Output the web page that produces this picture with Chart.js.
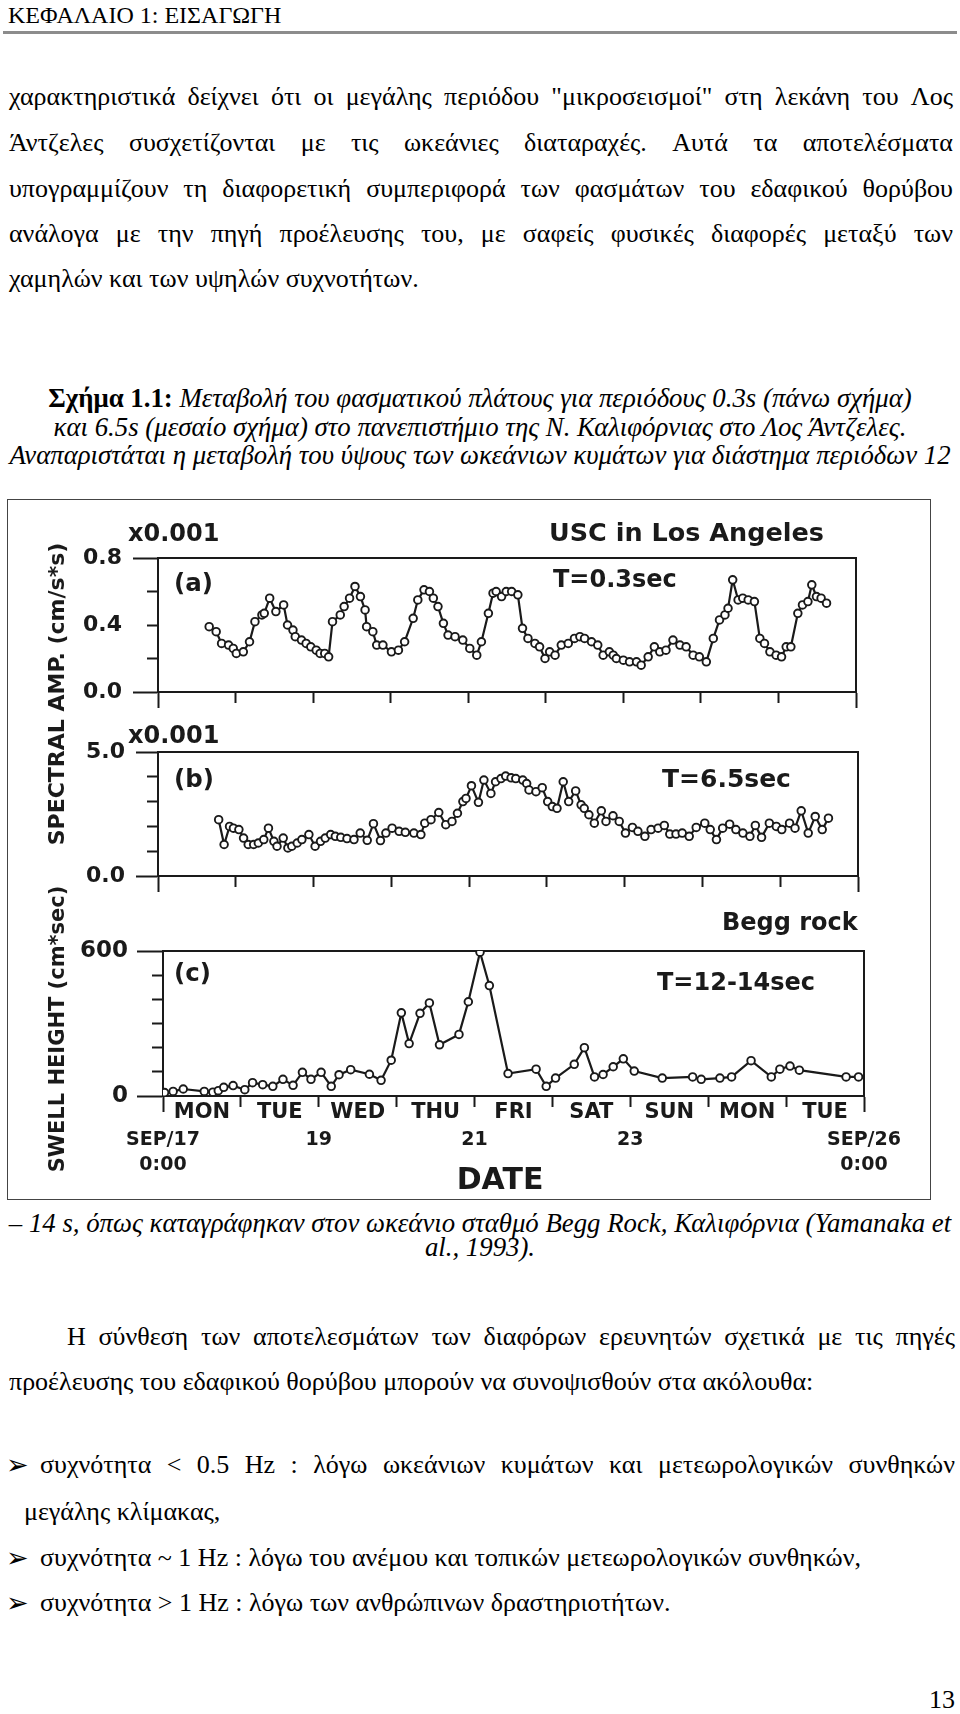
<!DOCTYPE html>
<html><head><meta charset="utf-8">
<script src="https://cdn.jsdelivr.net/npm/chart.js@4.4.1/dist/chart.umd.min.js"></script>
<style>
html,body{margin:0;padding:0;background:#fff;}
body{width:960px;height:1714px;position:relative;overflow:hidden;font-family:'Liberation Serif','Times New Roman',serif;color:#000;}
.ln{position:absolute;white-space:nowrap;font-size:26px;line-height:30px;height:30px;}
.j{display:flex;justify-content:space-between;}
.c{left:0;width:960px;text-align:center;}
.cap{font-size:26.8px;font-style:italic;}
.f{position:absolute;white-space:nowrap;font-family:'DejaVu Sans',sans-serif;font-weight:bold;color:#1a1a1a;line-height:1;transform:translateY(-50%);}
.rot{position:absolute;white-space:nowrap;font-family:'DejaVu Sans',sans-serif;font-weight:bold;color:#1a1a1a;line-height:1;transform:translate(-50%,-50%) rotate(-90deg);}
.bul{position:absolute;font-family:'DejaVu Sans',sans-serif;font-size:27px;line-height:30px;height:30px;}
canvas{position:absolute;left:0;}
#box{position:absolute;left:7px;top:499px;width:922px;height:699px;border:1.5px solid #444;}
</style></head><body>

<div class="ln" style="left:8px;top:0px;font-size:24px;">ΚΕΦΑΛΑΙΟ 1: ΕΙΣΑΓΩΓΗ</div>
<div style="position:absolute;left:3px;top:31px;width:954px;height:3px;background:#8c8c8c;"></div>

<div class="ln j" style="left:9px;width:944px;top:82px;">χαρακτηριστικά δείχνει ότι οι μεγάλης περιόδου "μικροσεισμοί" στη λεκάνη του Λος</div>
<div class="ln j" style="left:9px;width:944px;top:128px;">Άντζελες συσχετίζονται με τις ωκεάνιες διαταραχές. Αυτά τα αποτελέσματα</div>
<div class="ln j" style="left:9px;width:944px;top:174px;">υπογραμμίζουν τη διαφορετική συμπεριφορά των φασμάτων του εδαφικού θορύβου</div>
<div class="ln j" style="left:9px;width:944px;top:219px;">ανάλογα με την πηγή προέλευσης του, με σαφείς φυσικές διαφορές μεταξύ των</div>
<div class="ln" style="left:9px;top:264px;">χαμηλών και των υψηλών συχνοτήτων.</div>

<div class="ln c cap" style="top:383px;"><b style="font-style:normal">Σχήμα 1.1:</b> Μεταβολή του φασματικού πλάτους για περιόδους 0.3s (πάνω σχήμα)</div>
<div class="ln c cap" style="top:412px;">και 6.5s (μεσαίο σχήμα) στο πανεπιστήμιο της Ν. Καλιφόρνιας στο Λος Άντζελες.</div>
<div class="ln c cap" style="top:440px;">Αναπαριστάται η μεταβολή του ύψους των ωκεάνιων κυμάτων για διάστημα περιόδων 12</div>

<div id="box"></div>
<canvas id="ca" width="960" height="182" style="top:534px"></canvas>
<canvas id="cb" width="960" height="172" style="top:728px"></canvas>
<canvas id="cc" width="960" height="260" style="top:927px"></canvas>

<div class="f" style="left:128px;top:533px;font-size:24px;">x0.001</div>
<div class="f" style="left:549px;top:533px;font-size:25.5px;">USC in Los Angeles</div>
<div class="f" style="left:174px;top:583px;font-size:24.5px;">(a)</div>
<div class="f" style="left:553px;top:579px;font-size:24px;">T=0.3sec</div>
<div class="f" style="left:128px;top:735px;font-size:24px;">x0.001</div>
<div class="f" style="left:174px;top:779px;font-size:24.5px;">(b)</div>
<div class="f" style="left:662px;top:778px;font-size:25px;">T=6.5sec</div>
<div class="f" style="left:722px;top:922px;font-size:24px;">Begg rock</div>
<div class="f" style="left:174px;top:973px;font-size:24.5px;">(c)</div>
<div class="f" style="left:657px;top:982px;font-size:24px;">T=12-14sec</div>
<div class="f" style="left:500px;top:1179px;font-size:30px;transform:translate(-50%,-50%);">DATE</div>
<div class="rot" style="left:57px;top:694px;font-size:22px;">SPECTRAL AMP. (cm/s*s)</div>
<div class="rot" style="left:57px;top:1029px;font-size:21px;">SWELL HEIGHT (cm*sec)</div>

<div class="ln c cap" style="top:1208px;">– 14 s, όπως καταγράφηκαν στον ωκεάνιο σταθμό Begg Rock, Καλιφόρνια (Yamanaka et</div>
<div class="ln c cap" style="top:1232px;">al., 1993).</div>

<div class="ln j" style="left:67px;width:888px;top:1322px;">Η σύνθεση των αποτελεσμάτων των διαφόρων ερευνητών σχετικά με τις πηγές</div>
<div class="ln" style="left:9px;top:1367px;">προέλευσης του εδαφικού θορύβου μπορούν να συνοψισθούν στα ακόλουθα:</div>

<div class="bul" style="left:6px;top:1450px;">➢</div>
<div class="ln j" style="left:40px;width:915px;top:1450px;">συχνότητα &lt; 0.5 Hz : λόγω ωκεάνιων κυμάτων και μετεωρολογικών συνθηκών</div>
<div class="ln" style="left:24px;top:1497px;">μεγάλης κλίμακας,</div>
<div class="bul" style="left:6px;top:1543px;">➢</div>
<div class="ln" style="left:40px;top:1543px;">συχνότητα ~ 1 Hz : λόγω του ανέμου και τοπικών μετεωρολογικών συνθηκών,</div>
<div class="bul" style="left:6px;top:1588px;">➢</div>
<div class="ln" style="left:40px;top:1588px;">συχνότητα &gt; 1 Hz : λόγω των ανθρώπινων δραστηριοτήτων.</div>

<div class="ln" style="right:5px;top:1685px;">13</div>

<script>
// ---- data (days since Sep 17 0:00) ----
const aDays = [0.66,0.75,0.82,0.91,0.97,1.01,1.10,1.18,1.25,1.34,1.37,1.44,1.52,1.62,1.67,1.74,1.77,1.85,1.91,1.97,2.04,2.09,2.15,2.20,2.25,2.35,2.40,2.47,2.54,2.61,2.67,2.69,2.77,2.82,2.90,3.01,3.10,3.18,3.29,3.35,3.43,3.50,3.55,3.61,3.68,3.74,3.83,3.93,4.02,4.11,4.17,4.26,4.32,4.36,4.43,4.49,4.56,4.64,4.70,4.77,4.86,4.92,4.99,5.05,5.12,5.20,5.29,5.37,5.44,5.50,5.59,5.67,5.74,5.82,5.87,5.91,6.00,6.08,6.17,6.23,6.32,6.40,6.47,6.55,6.64,6.73,6.81,6.90,6.98,7.07,7.16,7.24,7.31,7.35,7.41,7.48,7.54,7.61,7.69,7.76,7.82,7.89,7.97,8.04,8.10,8.16,8.25,8.31,8.38,8.43,8.49,8.55,8.62];
const aAmp = [0.39,0.36,0.29,0.28,0.26,0.23,0.24,0.30,0.42,0.46,0.47,0.56,0.48,0.52,0.40,0.37,0.33,0.31,0.29,0.27,0.25,0.23,0.23,0.21,0.42,0.46,0.51,0.56,0.63,0.57,0.49,0.39,0.36,0.28,0.28,0.24,0.25,0.30,0.44,0.55,0.61,0.60,0.56,0.51,0.41,0.34,0.33,0.31,0.26,0.22,0.30,0.47,0.59,0.60,0.57,0.60,0.60,0.58,0.38,0.32,0.29,0.27,0.20,0.24,0.22,0.28,0.29,0.32,0.33,0.32,0.30,0.28,0.22,0.24,0.22,0.20,0.19,0.18,0.18,0.16,0.21,0.27,0.24,0.25,0.31,0.28,0.27,0.22,0.21,0.18,0.32,0.43,0.46,0.50,0.67,0.55,0.56,0.55,0.54,0.32,0.29,0.24,0.22,0.21,0.27,0.27,0.47,0.52,0.54,0.64,0.57,0.56,0.53];

const bDays = [0.78,0.85,0.92,0.97,1.04,1.10,1.16,1.23,1.29,1.36,1.42,1.49,1.53,1.61,1.67,1.72,1.79,1.85,1.94,2.02,2.09,2.15,2.22,2.28,2.35,2.43,2.52,2.60,2.69,2.77,2.86,2.93,3.01,3.10,3.18,3.29,3.38,3.43,3.51,3.61,3.70,3.78,3.85,3.92,3.96,4.03,4.12,4.19,4.28,4.34,4.41,4.47,4.54,4.60,4.69,4.74,4.77,4.86,4.94,5.01,5.07,5.13,5.21,5.28,5.37,5.44,5.48,5.54,5.61,5.70,5.76,5.85,5.93,6.01,6.10,6.17,6.26,6.34,6.43,6.51,6.58,6.66,6.74,6.83,6.92,7.03,7.10,7.18,7.26,7.35,7.43,7.52,7.61,7.68,7.76,7.86,7.95,8.02,8.12,8.19,8.27,8.36,8.45,8.54,8.62];
const bAmp = [2.27,1.27,2.00,1.93,1.87,1.53,1.27,1.27,1.33,1.47,1.93,1.40,1.20,1.53,1.13,1.20,1.33,1.47,1.67,1.20,1.40,1.53,1.67,1.60,1.56,1.51,1.47,1.73,1.44,2.11,1.43,1.73,1.93,1.80,1.76,1.73,1.67,2.13,2.27,2.56,2.07,2.20,2.53,3.00,3.13,3.64,2.97,3.87,3.33,3.80,3.93,4.03,3.96,3.93,3.87,3.73,3.47,3.40,3.56,3.00,2.80,2.73,3.80,3.00,3.43,2.87,2.73,2.47,2.13,2.63,2.20,2.43,2.20,1.73,1.96,1.80,1.60,1.87,1.93,2.04,1.69,1.69,1.73,1.60,1.96,2.13,1.87,1.47,1.93,2.09,1.87,1.73,1.60,2.04,1.56,2.13,2.00,1.87,2.13,1.93,2.63,1.73,2.40,1.87,2.33];

const cDays = [0.02,0.13,0.26,0.53,0.64,0.71,0.78,0.90,1.05,1.15,1.28,1.41,1.54,1.67,1.79,1.90,2.03,2.16,2.26,2.41,2.65,2.80,2.93,3.06,3.16,3.30,3.42,3.55,3.80,3.92,4.07,4.19,4.43,4.79,4.92,5.04,5.28,5.41,5.54,5.65,5.78,5.91,6.05,6.41,6.80,6.91,7.15,7.30,7.55,7.81,7.92,8.05,8.17,8.77,8.93];
const cHeight = [14,19,29,19,16,22,36,43,26,55,47,40,69,44,98,69,98,40,88,109,90,65,148,344,217,342,385,212,255,390,595,457,93,111,40,74,131,200,79,89,121,154,103,74,79,69,74,79,146,79,111,124,107,79,79];

// ---- ticks / labels ----
const xTickDays = [0,1,2,3,4,5,6,7,8,9];
const dayLabels = ['MON','TUE','WED','THU','FRI','SAT','SUN','MON','TUE'];
const dateDays = [0,2,4,6,9];
const dateLabels = [['SEP/17','0:00'],'19','21','23',['SEP/26','0:00']];
const aYTicks = [0,0.2,0.4,0.6,0.8];
const aYLabels = [0,0.4,0.8];
const bYTicks = [0,1,2,3,4,5];
const bYLabels = [0,5];
const cYTicks = [0,100,200,300,400,500,600];
const cYLabels = [0,600];

const INK = '#1a1a1a';
const FONT = 'DejaVu Sans';

function panel(id, o) {
  const near = (a, b) => Math.abs(a - b) < 1e-9;
  const scales = {
    x: {
      type: 'linear', position: 'bottom', min: 0, max: 9, weight: 0,
      afterBuildTicks: s => { s.ticks = xTickDays.map(v => ({value: v})); },
      ticks: {display: false},
      grid: {drawOnChartArea: false, tickLength: 16, tickWidth: 2, tickColor: INK,
        tickBorderDash: c => (c.tick && (near(c.tick.value, 0) || near(c.tick.value, 9))) ? [] : [10, 40]},
      border: {color: INK, width: 2},
      afterFit: s => { if (o.dates) s.height = 6; }
    },
    xTop: {
      type: 'linear', position: 'top', min: 0, max: 9,
      ticks: {display: false}, grid: {drawOnChartArea: false, drawTicks: false},
      border: {color: INK, width: 2}
    },
    y: {
      type: 'linear', position: 'left', min: 0, max: o.yMax,
      afterBuildTicks: s => { s.ticks = o.yTicks.map(v => ({value: v})); },
      ticks: {
        autoSkip: false, padding: o.labelPad, color: INK,
        font: {family: FONT, weight: 'bold', size: o.fontSize, lineHeight: 1},
        callback: v => o.yLabels.some(t => near(t, v)) ? o.fmt(v) : ''
      },
      grid: {drawOnChartArea: false, tickLength: o.tickLen, tickWidth: 2, tickColor: INK,
        tickBorderDash: c => (c.tick && (near(c.tick.value, 0) || near(c.tick.value, o.yMax))) ? [] : [0, o.tickLen - 11, 60, 0]},
      border: {color: INK, width: 2},
      afterFit: s => { s.width = o.left; }
    },
    yRight: {
      type: 'linear', position: 'right', min: 0, max: o.yMax,
      ticks: {display: false}, grid: {drawOnChartArea: false, drawTicks: false},
      border: {color: INK, width: 2}
    }
  };
  if (o.dates) {
    scales.xDay = {
      type: 'category', labels: dayLabels, position: 'bottom', offset: true, weight: 1,
      grid: {display: false, drawTicks: false}, border: {display: false},
      ticks: {autoSkip: false, maxRotation: 0, padding: 0, color: INK,
        font: {family: FONT, weight: 'bold', size: 21, lineHeight: 1}}
    };
    scales.xDate = {
      type: 'linear', position: 'bottom', min: 0, max: 9, weight: 2,
      afterBuildTicks: s => { s.ticks = dateDays.map(v => ({value: v})); },
      grid: {display: false, drawTicks: false}, border: {display: false},
      ticks: {autoSkip: false, maxRotation: 0, padding: 4, color: INK,
        font: {family: FONT, weight: 'bold', size: 19, lineHeight: 1.35},
        callback: (v, i) => dateLabels[i]}
    };
  }
  return new Chart(document.getElementById(id), {
    type: 'line',
    data: {datasets: [{
      data: o.days.map((d, i) => ({x: d, y: o.vals[i]})),
      borderColor: INK, borderWidth: 2.2, tension: 0,
      pointRadius: 3.8, pointBorderWidth: 1.9,
      pointBackgroundColor: '#ffffff', pointBorderColor: INK
    }]},
    options: {
      responsive: false, animation: false, devicePixelRatio: 1,
      layout: {padding: {left: 0, top: 24, right: o.right, bottom: o.bottom}},
      plugins: {legend: {display: false}, tooltip: {enabled: false}},
      scales
    }
  });
}

panel('ca', {days: aDays, vals: aAmp, yMax: 0.8, yTicks: aYTicks, yLabels: aYLabels,
  fmt: v => v.toFixed(1), fontSize: 22, tickLen: 25, labelPad: 11, left: 158, right: 104, bottom: 8});
panel('cb', {days: bDays, vals: bAmp, yMax: 5, yTicks: bYTicks, yLabels: bYLabels,
  fmt: v => v.toFixed(1), fontSize: 22, tickLen: 22, labelPad: 11, left: 158, right: 102, bottom: 8});
panel('cc', {days: cDays, vals: cHeight, yMax: 600, yTicks: cYTicks, yLabels: cYLabels,
  fmt: v => String(v), fontSize: 23, tickLen: 26, labelPad: 9, left: 163, right: 96, bottom: 4.7, dates: true});

// split justified single lines into flex word spans
document.querySelectorAll('.j').forEach(el => {
  const words = el.textContent.trim().split(/\s+/);
  el.textContent = '';
  words.forEach(w => { const s = document.createElement('span'); s.textContent = w; el.appendChild(s); });
});
</script>
</body></html>
